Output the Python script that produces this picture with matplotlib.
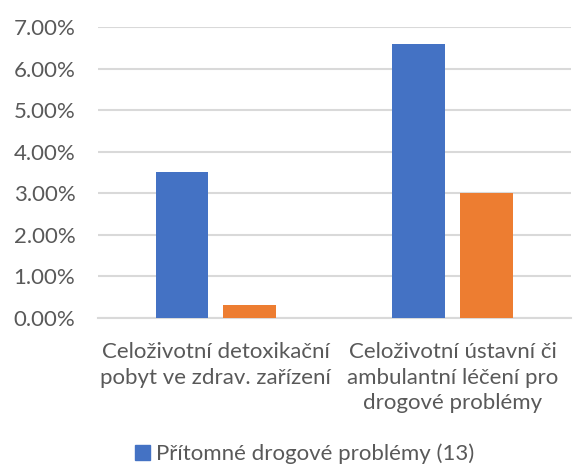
import numpy as np
import matplotlib.pyplot as plt
from matplotlib.patches import Patch
from matplotlib.ticker import FuncFormatter
from matplotlib.transforms import blended_transform_factory

categories = ["Celoživotní detoxikační\npobyt ve zdrav. zařízení",
              "Celoživotní ústavní či\nambulantní léčení pro\ndrogové problémy"]
series_blue = [0.035, 0.066]
series_orange = [0.003, 0.030]
legend_label = "Přítomné drogové problémy (13)"

text_color = "#595959"
grid_color = "#d9d9d9"
plt.rcParams['font.family'] = ['Lato', 'DejaVu Sans']

W, H = 574, 466
fig = plt.figure(figsize=(W / 100, H / 100), dpi=100)
left, right, top, bottom = 97.5, 571, 27.2, 317.7
ax = fig.add_axes([left / W, (H - bottom) / H, (right - left) / W, (bottom - top) / H])

x = np.arange(len(categories))
bar_w = 0.223
off = 0.143
ax.bar(x - off, series_blue, width=bar_w, color="#4472C4", zorder=3)
ax.bar(x + off, series_orange, width=bar_w, color="#ED7D31", zorder=3)

ax.set_xlim(-0.5, 1.5)
ax.set_ylim(0, 0.07)
ax.set_yticks(np.arange(0, 0.0701, 0.01))
ax.yaxis.set_major_formatter(FuncFormatter(lambda v, p: f"{v * 100:.2f}%"))
ax.set_xticks([])
ax.tick_params(axis='y', length=0, pad=16, labelsize=16, labelcolor=text_color)
ax.grid(axis='y', color=grid_color, linewidth=1.5, zorder=0)
for s in ["top", "right", "left"]:
    ax.spines[s].set_visible(False)
ax.spines["bottom"].set_color(grid_color)
ax.spines["bottom"].set_linewidth(1.5)

trans = blended_transform_factory(ax.transData, ax.transAxes)
for xi, lab in zip(x, categories):
    ax.text(xi, -0.085, lab, transform=trans, ha="center", va="top",
            fontsize=16, color=text_color, linespacing=1.34)

fig.legend(handles=[Patch(color="#4472C4", label=legend_label)],
           loc="center", bbox_to_anchor=(305 / W, 1 - 454 / H), frameon=False,
           fontsize=16, labelcolor=text_color, handlelength=0.65, handleheight=0.65,
           handletextpad=0.3)

fig.savefig("out.png", dpi=100)
